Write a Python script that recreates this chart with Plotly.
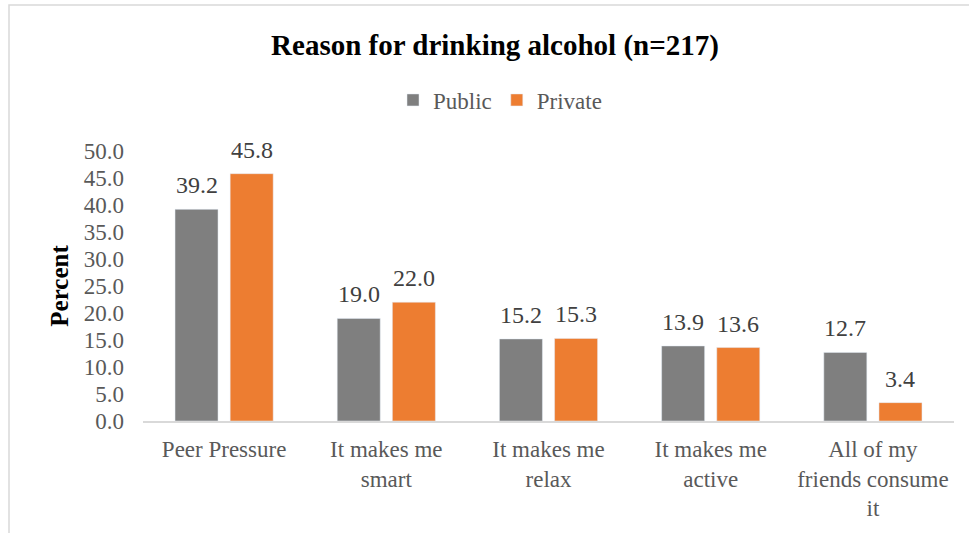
import plotly.graph_objects as go

categories = ["Peer Pressure", "It makes me<br>smart", "It makes me<br>relax",
              "It makes me<br>active", "All of my<br>friends consume<br>it"]
public = [39.2, 19.0, 15.2, 13.9, 12.7]
private = [45.8, 22.0, 15.3, 13.6, 3.4]
y_ticks = [0, 5, 10, 15, 20, 25, 30, 35, 40, 45, 50]
y_tick_text = [f"{v:.1f}" for v in y_ticks]

FONT = "Liberation Serif, Times New Roman, serif"
W, H = 969, 533
L, R, T, B = 143, 15, 151, 112
BARGAP, GROUPGAP = 0.32, 0.22

pw = W - L - R
ph = H - T - B

fig = go.Figure()
fig.add_trace(go.Bar(name="Public", x=categories, y=public, marker_color="#7F7F7F"))
fig.add_trace(go.Bar(name="Private", x=categories, y=private, marker_color="#ED7D31"))

# value labels above each bar, centred on its slot within the group
slot = pw / len(categories) * (1 - BARGAP) / 2
annotations = []
for series, sign in ((public, -1), (private, 1)):
    for cat, v in zip(categories, series):
        annotations.append(dict(
            x=cat, y=v, xref="x", yref="y", text=f"{v:.1f}", showarrow=False,
            xanchor="center", yanchor="bottom", xshift=sign * slot / 2, yshift=9,
            font=dict(family=FONT, size=24, color="#404040"),
        ))

fig.update_layout(
    width=W, height=H,
    margin=dict(l=L, r=R, t=T, b=B),
    paper_bgcolor="white", plot_bgcolor="white",
    font=dict(family=FONT, color="#595959"),
    barmode="group", bargap=BARGAP, bargroupgap=GROUPGAP,
    title=dict(text="<b>Reason for drinking alcohol (n=217)</b>",
               x=495 / W, xanchor="center", y=1 - 45 / H, yanchor="middle",
               font=dict(family=FONT, size=29, color="black")),
    legend=dict(orientation="h", xref="container", yref="container",
                x=500 / W, xanchor="center", y=1 - 100 / H, yanchor="middle",
                font=dict(family=FONT, size=23, color="#595959"),
                itemwidth=30, traceorder="normal"),
    showlegend=True,
    xaxis=dict(showline=True, linecolor="#D9D9D9", linewidth=2,
               ticks="", tickfont=dict(family=FONT, size=23, color="#595959"),
               ticklabelstandoff=6),
    yaxis=dict(range=[0, 50], tickvals=y_ticks, ticktext=y_tick_text,
               showgrid=False, zeroline=False, showline=False, ticks="",
               tickfont=dict(family=FONT, size=23, color="#595959"),
               ticklabelstandoff=18,
               title=dict(text="<b>Percent</b>", standoff=8,
                          font=dict(family=FONT, size=25, color="black"))),
    annotations=annotations,
    shapes=[dict(type="rect", xref="paper", yref="paper",
                 x0=(9 - L) / pw, x1=(W + 20 - L) / pw,
                 y0=-(H + 20 - (H - B)) / ph, y1=(H - B - 5) / ph,
                 line=dict(color="#D9D9D9", width=1.5), fillcolor="rgba(0,0,0,0)",
                 layer="below")],
)

fig.write_html("out.html")
